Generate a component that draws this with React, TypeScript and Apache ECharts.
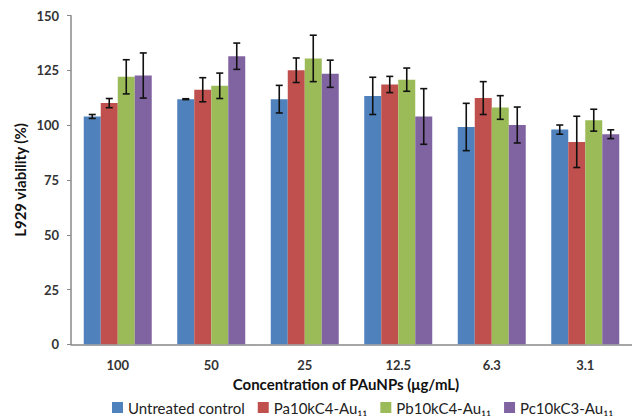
import React, { useEffect, useRef } from "react";
import * as echarts from "echarts";

const categories = ["100", "50", "25", "12.5", "6.3", "3.1"];
const seriesNames = ["Untreated control", "Pa10kC4-Au₁₁", "Pb10kC4-Au₁₁", "Pc10kC3-Au₁₁"];
const untreated = [104.0, 111.9, 111.9, 113.4, 99.2, 98.0];
const untreatedErr = [0.9, 0.2, 6.3, 8.5, 10.8, 2.1];
const pa = [110.1, 116.2, 125.1, 118.6, 112.4, 92.4];
const paErr = [2.1, 5.5, 5.6, 3.7, 7.5, 11.7];
const pb = [122.1, 118.0, 130.5, 120.8, 108.1, 102.3];
const pbErr = [7.8, 5.8, 10.6, 5.3, 5.4, 5.0];
const pc = [122.7, 131.5, 123.5, 104.0, 100.1, 95.9];
const pcErr = [10.3, 6.0, 6.2, 12.7, 8.2, 2.0];
const yTicks = { min: 0, max: 150, interval: 25 };

const colors = ["#4F81BD", "#C0504D", "#9BBB59", "#8064A2"];
const FONT = "Lato, 'Open Sans', sans-serif";
const BAR_W = 17;

export default function App() {
  const ref = useRef<HTMLDivElement>(null);
  useEffect(() => {
    if (!ref.current) return;
    const chart = echarts.init(ref.current, undefined, { renderer: "svg" });
    const values = [untreated, pa, pb, pc];
    const errs = [untreatedErr, paErr, pbErr, pcErr];
    const barSeries = values.map((v, si) => ({
      name: seriesNames[si],
      type: "bar",
      data: v,
      barWidth: BAR_W,
      barGap: "0%",
      itemStyle: { color: colors[si] },
      z: 2,
    }));
    const errSeries = values.map((v, si) => ({
      name: seriesNames[si] + " err",
      type: "custom",
      z: 5,
      silent: true,
      encode: { x: 0, y: 1 },
      data: v.map((m, i) => [i, m, errs[si][i]]),
      renderItem: (params: any, api: any) => {
        const idx = api.value(0);
        const mean = api.value(1);
        const e = api.value(2);
        const hi = api.coord([idx, mean + e]);
        const lo = api.coord([idx, mean - e]);
        const off = (si - 1.5) * BAR_W;
        const x = hi[0] + off;
        const cap = 3.5;
        const style = { stroke: "#111", lineWidth: 1.6 };
        return {
          type: "group",
          children: [
            { type: "line", shape: { x1: x, y1: hi[1], x2: x, y2: lo[1] }, style },
            { type: "line", shape: { x1: x - cap, y1: hi[1], x2: x + cap, y2: hi[1] }, style },
            { type: "line", shape: { x1: x - cap, y1: lo[1], x2: x + cap, y2: lo[1] }, style },
          ],
        };
      },
    }));
    chart.setOption({
      animation: false,
      textStyle: { fontFamily: FONT },
      grid: { left: 71, right: -2, top: 15.7, bottom: 73.7, containLabel: false },
      legend: {
        data: seriesNames,
        left: 112,
        top: 400,
        padding: 0,
        itemWidth: 11,
        itemHeight: 11,
        itemGap: 13,
        icon: "rect",
        textStyle: { fontFamily: FONT, fontSize: 15, color: "#222" },
      },
      xAxis: {
        type: "category",
        data: categories,
        axisLine: { lineStyle: { color: "#888", width: 1.5 } },
        axisTick: { show: false },
        axisLabel: { margin: 14, fontSize: 13, fontWeight: "bold", color: "#333", fontFamily: FONT },
      },
      yAxis: {
        type: "value",
        min: yTicks.min,
        max: yTicks.max,
        interval: yTicks.interval,
        splitLine: { show: false },
        axisLine: { show: true, lineStyle: { color: "#888", width: 1.5 } },
        axisTick: { show: true, length: 4, lineStyle: { color: "#888" } },
        axisLabel: { margin: 12, fontSize: 13, fontWeight: "bold", color: "#333", fontFamily: FONT },
      },
      graphic: [
        {
          type: "text",
          x: 20,
          y: 180,
          rotation: Math.PI / 2,
          style: {
            text: "L929 viability (%)",
            font: `bold 15px ${FONT}`,
            fill: "#111",
            align: "center",
            verticalAlign: "middle",
          },
        },
        {
          type: "text",
          x: 346,
          y: 384,
          style: {
            text: "Concentration of PAuNPs (μg/mL)",
            font: `bold 15px ${FONT}`,
            fill: "#111",
            align: "center",
            verticalAlign: "middle",
          },
        },
      ],
      series: [...barSeries, ...errSeries],
    });
    return () => chart.dispose();
  }, []);
  return (
    <div
      ref={ref}
      style={{ position: "fixed", left: 0, top: 0, width: 632, height: 418, background: "#fff" }}
    />
  );
}
